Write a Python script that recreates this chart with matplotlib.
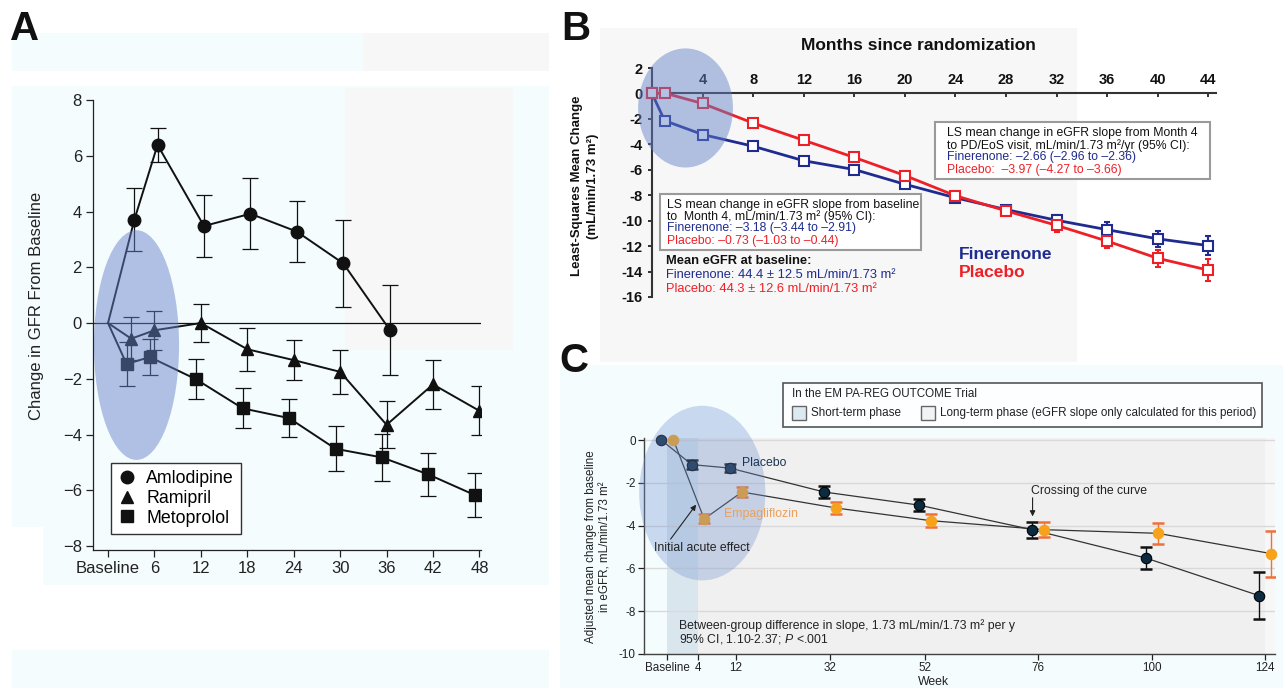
import matplotlib
matplotlib.use('Agg')
import matplotlib.pyplot as plt
from matplotlib import font_manager
from matplotlib.patches import Ellipse, Rectangle
from matplotlib.lines import Line2D

plt.rcParams['font.family'] = ['Liberation Sans', 'DejaVu Sans']
ARIAL = ['Liberation Sans', 'DejaVu Sans']
_names = {f.name for f in font_manager.fontManager.ttflist}
if 'Liberation Sans Narrow' in _names:
    NARROW = ['Liberation Sans Narrow', 'Liberation Sans', 'DejaVu Sans']
    NS = 1.0
    _it = 'Liberation Sans Narrow:italic'
else:
    NARROW = ARIAL
    NS = 0.84
    _it = 'Liberation Sans:italic'
plt.rcParams['mathtext.fontset'] = 'custom'
plt.rcParams['mathtext.it'] = _it
plt.rcParams['mathtext.rm'] = _it.replace(':italic', '')

# ---------------- Panel A data ----------------
a_xticks = [0, 6, 12, 18, 24, 30, 36, 42, 48]
a_xticklabels = ['Baseline', '6', '12', '18', '24', '30', '36', '42', '48']
a_yticks = [-8, -6, -4, -2, 0, 2, 4, 6, 8]
a_series = ['Amlodipine', 'Ramipril', 'Metoprolol']
amlodipine_months = [0, 3, 6, 12, 18, 24, 30, 36]
amlodipine_mean = [0, 3.70, 6.39, 3.48, 3.92, 3.28, 2.14, -0.24]
amlodipine_err = [0, 1.13, 0.60, 1.10, 1.28, 1.10, 1.57, 1.62]
ramipril_months = [0, 3, 6, 12, 18, 24, 30, 36, 42, 48]
ramipril_mean = [0, -0.56, -0.26, 0.0, -0.94, -1.33, -1.75, -3.65, -2.20, -3.15]
ramipril_err = [0, 0.76, 0.70, 0.67, 0.78, 0.72, 0.80, 0.84, 0.88, 0.88]
metoprolol_months = [0, 3, 6, 12, 18, 24, 30, 36, 42, 48]
metoprolol_mean = [0, -1.47, -1.22, -2.02, -3.06, -3.41, -4.51, -4.82, -5.43, -6.17]
metoprolol_err = [0, 0.78, 0.65, 0.72, 0.72, 0.69, 0.80, 0.85, 0.78, 0.80]

# ---------------- Panel B data ----------------
b_months = [0, 1, 4, 8, 12, 16, 20, 24, 28, 32, 36, 40, 44]
b_xticks = [4, 8, 12, 16, 20, 24, 28, 32, 36, 40, 44]
b_yticks = [-16, -14, -12, -10, -8, -6, -4, -2, 0, 2]
finerenone_mean = [0, -2.14, -3.23, -4.15, -5.29, -5.98, -7.14, -8.20, -9.13, -9.97, -10.71, -11.43, -11.96]
finerenone_err = [0, 0.10, 0.12, 0.12, 0.15, 0.18, 0.20, 0.22, 0.30, 0.40, 0.60, 0.65, 0.75]
placebo_b_mean = [0, 0.03, -0.79, -2.33, -3.68, -5.03, -6.45, -8.04, -9.23, -10.37, -11.61, -12.96, -13.89]
placebo_b_err = [0, 0.10, 0.12, 0.15, 0.20, 0.28, 0.35, 0.35, 0.40, 0.50, 0.55, 0.65, 0.85]

# ---------------- Panel C data ----------------
c_weeks = [0, 4, 12, 32, 52, 76, 100, 124]
c_xticklabels = ['Baseline', '4', '12', '32', '52', '76', '100', '124']
c_yticks = [-10, -8, -6, -4, -2, 0]
placebo_c_mean = [0, -1.15, -1.31, -2.43, -3.04, -4.19, -5.51, -7.27]
placebo_c_err = [0, 0.20, 0.20, 0.27, 0.30, 0.37, 0.50, 1.09]
empa_c_mean = [0, -3.69, -2.43, -3.18, -3.77, -4.19, -4.36, -5.31]
empa_c_err = [0, 0.21, 0.24, 0.27, 0.30, 0.36, 0.50, 1.07]

W, H = 1283, 688
fig = plt.figure(figsize=(W / 100, H / 100), dpi=100)


def fig_rect(x0, y0, x1, y1, color, z=0):
    fig.add_artist(Rectangle((x0 / W, 1 - y1 / H), (x1 - x0) / W, (y1 - y0) / H,
                             transform=fig.transFigure, facecolor=color,
                             edgecolor='none', zorder=z))


def ax_at(x0, y0, x1, y1):
    a = fig.add_axes([x0 / W, 1 - y1 / H, (x1 - x0) / W, (y1 - y0) / H])
    a.set_facecolor('none')
    return a


def fx(x):
    return x / W


def fy(y):
    return 1 - y / H


# faint background patches of the composite image
CYAN = '#f4fcfe'
GRAY = '#f7f7f7'
fig_rect(12, 33, 363, 71, CYAN)
fig_rect(363, 33, 549, 71, GRAY)
fig_rect(12, 86, 549, 527, CYAN)
fig_rect(43, 527, 549, 585, CYAN)
fig_rect(345, 88, 513, 350, GRAY)
fig_rect(12, 650, 549, 688, CYAN)
fig_rect(600, 28, 1077, 352, GRAY)
fig_rect(600, 330, 1077, 362, GRAY)
fig_rect(560, 365, 1283, 688, CYAN)

# panel letters
for letter, (px, py) in zip(['A', 'B', 'C'], [(10, 40), (561, 40), (559, 372)]):
    fig.text(fx(px), fy(py), letter, fontsize=29, fontweight='bold',
             ha='left', va='baseline', color='#111', family=ARIAL)

# =============== Panel A ===============
axA = ax_at(93, 100, 481, 550)
axA.set_xlim(-1.94, 48.2)
axA.set_ylim(-8.14, 8)
axA.spines[['top', 'right']].set_visible(False)
for s in ['left', 'bottom']:
    axA.spines[s].set_color('#222')
    axA.spines[s].set_linewidth(0.9)
axA.set_xticks(a_xticks)
axA.set_xticklabels(a_xticklabels)
axA.set_yticks(a_yticks)
axA.set_yticklabels([str(v).replace('-', '\u2212') for v in a_yticks])
axA.tick_params(direction='out', length=5, width=0.9, labelsize=12,
                colors='#222', pad=3)
axA.axhline(0, color='#111', lw=0.9, zorder=2)

a_specs = [
    (amlodipine_months, amlodipine_mean, amlodipine_err, 'o', 9, 0.4),
    (ramipril_months, ramipril_mean, ramipril_err, '^', 9, 0.0),
    (metoprolol_months, metoprolol_mean, metoprolol_err, 's', 8.5, -0.6),
]
for months, mean, err, mk, ms, dx in a_specs:
    xs = [m + (dx if m > 0 else 0) for m in months]
    axA.plot(xs, mean, color='#111', lw=1.4, zorder=3)
    axA.errorbar(xs[1:], mean[1:], yerr=err[1:], fmt=mk, color='#111', ms=ms,
                 capsize=5.5, elinewidth=0.9, capthick=0.9, zorder=4)

axA.add_patch(Ellipse((3.68, -0.79), 11.0, 8.24, facecolor=(100 / 255, 128 / 255, 200 / 255),
                      alpha=0.48, edgecolor='none', zorder=5))

handles = [Line2D([], [], ls='none', marker=m, color='#111', ms=s)
           for m, s in zip(['o', '^', 's'], [9, 9, 8.5])]
legA = axA.legend(handles, a_series, loc='lower left', bbox_to_anchor=(0.046, 0.036),
                  borderaxespad=0, fancybox=False, framealpha=1, edgecolor='#333',
                  prop={'family': ARIAL, 'size': 12.8}, borderpad=0.4,
                  handlelength=1.0, handletextpad=0.6, labelspacing=0.15)
legA.get_frame().set_linewidth(1.0)
legA.set_zorder(8)

fig.text(fx(37), fy(306), 'Change in GFR From Baseline', rotation=90, ha='center',
         va='center', fontsize=12, color='#222', family=ARIAL)

# =============== Panel B ===============
BLUE = '#1f2b8f'
RED = '#ee2027'
axB = ax_at(652, 68, 1216, 297)
axB.set_xlim(0, 44.6)
axB.set_ylim(-16, 2)
axB.spines[['right', 'bottom']].set_visible(False)
axB.spines['top'].set_position(('data', 0))
for s in ['left', 'top']:
    axB.spines[s].set_color('#333')
    axB.spines[s].set_linewidth(1.5)
axB.xaxis.tick_top()
axB.set_xticks(b_xticks)
axB.set_xticklabels([str(v) for v in b_xticks], fontweight='bold')
axB.tick_params(axis='x', direction='in', length=3, width=1.2, labelsize=10.5,
                pad=5, colors='#111')
axB.set_yticks(b_yticks)
axB.set_yticklabels([str(v) for v in b_yticks], fontweight='bold')
axB.tick_params(axis='y', direction='out', length=3, width=1.2, labelsize=10.5,
                pad=4, colors='#111')

axB.errorbar(b_months, finerenone_mean, yerr=finerenone_err, color=BLUE, lw=2,
             marker='s', ms=6.5, mfc='white', mec=BLUE, mew=1.5, capsize=2.5,
             elinewidth=1.5, capthick=1.5, clip_on=False, zorder=4)
axB.errorbar(b_months, placebo_b_mean, yerr=placebo_b_err, color=RED, lw=2,
             marker='s', ms=6.5, mfc='white', mec=RED, mew=1.5, capsize=2.5,
             elinewidth=1.5, capthick=1.5, clip_on=False, zorder=4)
axB.add_patch(Ellipse((2.65, -1.14), 7.5, 9.36, facecolor=(100 / 255, 128 / 255, 200 / 255),
                      alpha=0.48, edgecolor='none', zorder=5, clip_on=False))

for (x0, x1, y0, y1) in [(22.4, 44.1, -6.76, -2.28), (0.63, 21.3, -12.34, -7.94)]:
    axB.add_patch(Rectangle((x0, y0), x1 - x0, y1 - y0, facecolor='white',
                            edgecolor='#9a9a9a', lw=1.5, zorder=6))

box1 = [
    (-3.14, 'LS mean change in eGFR slope from Month 4', '#111'),
    (-4.09, 'to PD/EoS visit, mL/min/1.73 m\u00b2/yr (95% CI):', '#111'),
    (-5.03, 'Finerenone: \u20132.66 (\u20132.96 to \u20132.36)', BLUE),
    (-6.05, 'Placebo:  \u20133.97 (\u20134.27 to \u20133.66)', RED),
]
for y, t, c in box1:
    axB.text(23.3, y, t, color=c, fontsize=8.8, va='center', ha='left', zorder=7,
             family=ARIAL)
box2 = [
    (-8.73, 'LS mean change in eGFR slope from baseline', '#111'),
    (-9.67, 'to  Month 4, mL/min/1.73 m\u00b2 (95% CI):', '#111'),
    (-10.6, 'Finerenone: \u20133.18 (\u20133.44 to \u20132.91)', BLUE),
    (-11.6, 'Placebo: \u20130.73 (\u20131.03 to \u20130.44)', RED),
]
for y, t, c in box2:
    axB.text(1.19, y, t, color=c, fontsize=8.8, va='center', ha='left', zorder=7,
             family=ARIAL)
axB.text(1.1, -13.2, 'Mean eGFR at baseline:', color='#111', fontsize=9.3,
         fontweight='bold', va='center', ha='left', zorder=7, family=ARIAL)
axB.text(1.1, -14.3, 'Finerenone: 44.4 \u00b1 12.5 mL/min/1.73 m\u00b2', color=BLUE,
         fontsize=9.3, va='center', ha='left', zorder=7, family=ARIAL)
axB.text(1.1, -15.4, 'Placebo: 44.3 \u00b1 12.6 mL/min/1.73 m\u00b2', color=RED,
         fontsize=9.3, va='center', ha='left', zorder=7, family=ARIAL)
axB.text(24.3, -12.66, 'Finerenone', color=BLUE, fontsize=12.5, fontweight='bold',
         va='center', ha='left', family=ARIAL)
axB.text(24.3, -14.1, 'Placebo', color=RED, fontsize=12.5, fontweight='bold',
         va='center', ha='left', family=ARIAL)

fig.text(fx(918), fy(45), 'Months since randomization', fontsize=12.5,
         fontweight='bold', ha='center', va='center', color='#111', family=ARIAL)
fig.text(fx(585), fy(186), 'Least-Squares Mean Change\n(mL/min/1.73 m\u00b2)', rotation=90,
         ha='center', va='center', fontsize=9.5, fontweight='bold', linespacing=1.35,
         color='#111', family=ARIAL)

# =============== Panel C ===============
NAVY = '#0c2b40'
ORANGE = '#f7a21b'
ORANGE_ERR = '#f0703a'


def cpos(w):
    return -2.5 if w == 0 else w


axC = ax_at(644, 438.3, 1275, 654)
axC.set_xlim(-7.43, 126.1)
axC.set_ylim(-10, 0.08)
axC.spines[['top', 'right']].set_visible(False)
for s in ['left', 'bottom']:
    axC.spines[s].set_color('#444')
    axC.spines[s].set_linewidth(1.0)
axC.axvspan(cpos(0), cpos(4), color='#dae6ee', lw=0, zorder=0)
axC.axvspan(cpos(4), cpos(124), color='#f0f0f0', lw=0, zorder=0)
axC.axvspan(cpos(124), 126.1, color='#f7f7f7', lw=0, zorder=0)
axC.set_yticks(c_yticks)
axC.set_yticklabels([str(v) for v in c_yticks])
axC.set_xticks([cpos(w) for w in c_weeks])
axC.set_xticklabels(c_xticklabels)
axC.tick_params(direction='out', length=4, width=0.9, labelsize=10 * NS, colors='#222', pad=2)
for lab in axC.get_xticklabels() + axC.get_yticklabels():
    lab.set_family(NARROW)
axC.set_axisbelow(True)
axC.grid(axis='y', color='#d9d9d9', lw=1.0)

xs_pl = [cpos(w) - 1.3 for w in c_weeks]
xs_em = [cpos(w) + 1.3 for w in c_weeks]
axC.plot(xs_pl, placebo_c_mean, color='#333', lw=0.9, zorder=3)
axC.plot(xs_em, empa_c_mean, color='#333', lw=0.9, zorder=3)
axC.errorbar(xs_pl[1:], placebo_c_mean[1:], yerr=placebo_c_err[1:], fmt='none',
             ecolor='#111', elinewidth=1.0, capsize=4.5, capthick=1.8, zorder=4)
axC.errorbar(xs_em[1:], empa_c_mean[1:], yerr=empa_c_err[1:], fmt='none',
             ecolor=ORANGE_ERR, elinewidth=1.0, capsize=4.5, capthick=1.8, zorder=4)
axC.plot(xs_pl, placebo_c_mean, ls='none', marker='o', ms=7.5, mfc=NAVY, mec='#000',
         mew=0.8, zorder=5, clip_on=False)
axC.plot(xs_em, empa_c_mean, ls='none', marker='o', ms=7.5, mfc=ORANGE, mec=ORANGE,
         mew=0.8, zorder=5, clip_on=False)

axC.add_patch(Ellipse((4.9, -2.48), 26.7, 8.16, facecolor=(113 / 255, 145 / 255, 208 / 255),
                      alpha=0.33, edgecolor='none', zorder=6, clip_on=False))

CFS = 10.5 * NS
axC.text(13.4, -1.07, 'Placebo', color='#1a3552', fontsize=CFS, va='center',
         ha='left', family=NARROW, zorder=7)
axC.text(9.4, -3.47, 'Empagliflozin', color='#eda057', fontsize=CFS, va='center',
         ha='left', family=NARROW, zorder=7)
axC.text(-5.3, -5.05, 'Initial acute effect', fontsize=CFS, va='center', ha='left',
         family=NARROW, color='#222', zorder=7)
axC.annotate('', xy=(3.6, -3.02), xytext=(-1.8, -4.63), annotation_clip=False, zorder=7,
             arrowprops=dict(arrowstyle='-|>', color='#222', lw=0.8,
                             mutation_scale=8, shrinkA=0, shrinkB=0))
axC.text(74.5, -2.4, 'Crossing of the curve', fontsize=CFS, va='center', ha='left',
         family=NARROW, color='#222', zorder=7)
axC.annotate('', xy=(74.8, -3.57), xytext=(74.8, -2.7), zorder=7,
             arrowprops=dict(arrowstyle='-|>', color='#222', lw=0.8,
                             mutation_scale=8, shrinkA=0, shrinkB=0))
axC.text(0.0, -8.69, 'Between-group difference in slope, 1.73 mL/min/1.73 m\u00b2 per y',
         fontsize=CFS, va='center', ha='left', family=NARROW, color='#222', zorder=7)
axC.text(0.0, -9.3, '95% CI, 1.10-2.37; $P$ <.001',
         fontsize=CFS, va='center', ha='left', family=NARROW, color='#222', zorder=7)

fig.text(fx(598), fy(547), 'Adjusted mean change from baseline\nin eGFR, mL/min/1.73 m\u00b2',
         rotation=90, ha='center', va='center', fontsize=10 * NS, linespacing=1.25,
         color='#222', family=NARROW)
fig.text(fx(933), fy(682), 'Week', ha='center', va='center', fontsize=CFS,
         color='#222', family=NARROW)

# legend box of panel C
fig.add_artist(Rectangle((fx(783), fy(427)), (1262 - 783) / W, (427 - 383) / H,
                         transform=fig.transFigure, facecolor='#fcfeff',
                         edgecolor='#555', lw=1.2, zorder=3))
fig.text(fx(792), fy(394), 'In the EM PA-REG OUTCOME Trial', ha='left', va='center',
         fontsize=10 * NS, color='#222', family=NARROW, zorder=4)
for (x0, face, label) in [(792, '#dde9f1', 'Short-term phase'),
                          (921, '#f3f3f3', 'Long-term phase (eGFR slope only calculated for this period)')]:
    fig.add_artist(Rectangle((fx(x0), fy(420)), 14 / W, 14 / H, transform=fig.transFigure,
                             facecolor=face, edgecolor='#666', lw=1.0, zorder=4))
    fig.text(fx(x0 + 19), fy(413), label, ha='left', va='center', fontsize=10 * NS,
             color='#222', family=NARROW, zorder=4)

fig.savefig('out.png', dpi=100)
